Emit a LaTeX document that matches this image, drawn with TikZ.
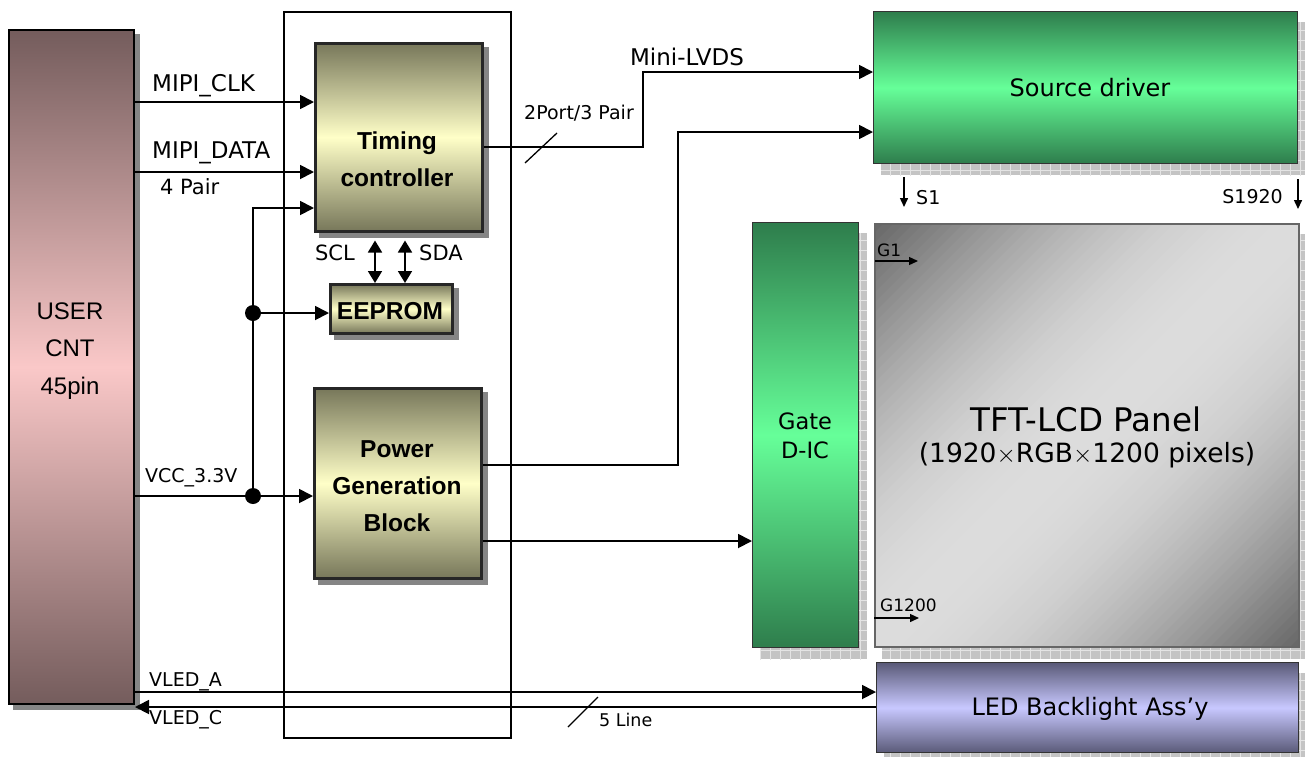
\documentclass[tikz,border=0pt]{standalone}
\usepackage{fontspec}
\setmainfont{DejaVu Sans}
\newfontfamily\arialf{Liberation Sans}
\usetikzlibrary{arrows.meta,calc,backgrounds}
\definecolor{cntdark}{HTML}{745C5C}
\definecolor{cntlight}{HTML}{FAC8C8}
\definecolor{oldark}{HTML}{77775A}
\definecolor{ollight}{HTML}{FFFFC8}
\definecolor{grdark}{HTML}{2E7D4C}
\definecolor{grlight}{HTML}{66FF99}
\definecolor{ledark}{HTML}{5A5A78}
\definecolor{lelight}{HTML}{C8C8FF}
\definecolor{pndark}{HTML}{666666}
\definecolor{pnlight}{HTML}{DCDCDC}
\definecolor{shgray}{HTML}{858585}
\definecolor{hatchbg}{HTML}{C4C4C4}
\definecolor{hatchln}{HTML}{E4E4E4}
\newcommand{\hatchshadow}[1]{%
  \fill[hatchbg] ($(#1.north west)+(8,11)$) rectangle ($(#1.south east)+(8,11)$);
  \begin{scope}
    \clip ($(#1.north west)+(8,11)$) rectangle ($(#1.south east)+(8,11)$);
    \draw[hatchln, line width=0.8pt, step=10pt] ($(#1.south west)+(0,30)$) grid ($(#1.north east)+(30,0)$);
  \end{scope}}
\newcommand{\solidshadow}[1]{%
  \fill[shgray] ($(#1.north west)+(5,5)$) rectangle ($(#1.south east)+(5,5)$);}
\begin{document}
\begin{tikzpicture}[x=1pt,y=-1pt,
  blk/.style={rectangle, inner sep=0pt, anchor=north west},
  cntbox/.style={blk, draw=black, line width=2pt, top color=cntdark, bottom color=cntdark, middle color=cntlight},
  olbox/.style={blk, draw=black!85, line width=2.5pt, top color=oldark, bottom color=oldark, middle color=ollight},
  grbox/.style={blk, draw=black!80, line width=1.2pt, top color=grdark, bottom color=grdark, middle color=grlight},
  lebox/.style={blk, draw=black!80, line width=1.2pt, top color=ledark, bottom color=ledark, middle color=lelight},
  pnbox/.style={blk, draw=black!60, line width=1.5pt},
  wire/.style={line width=1.8pt},
  arr/.style={wire, -{Triangle[length=14pt,width=14pt]}},
  darr/.style={wire, {Triangle[length=12pt,width=14pt]}-{Triangle[length=12pt,width=14pt]}},
  sarr/.style={line width=1.5pt, -{Triangle[length=9pt,width=8pt]}},
  lbl/.style={inner sep=0pt, font=\fontsize{19}{22}\selectfont},
  lblb/.style={inner sep=0pt, font=\fontsize{23}{27}\selectfont},
  btxt/.style={inner sep=0pt, align=center, font=\arialf\bfseries\fontsize{24.5}{37}\selectfont},
  dot/.style={circle, fill=black, inner sep=0pt, minimum size=16pt}
]
\useasboundingbox (0,0) rectangle (1305,756);

% outer frame
\node[blk, draw=black, line width=2pt, minimum width=227pt, minimum height=726pt] (frame) at (283,11) {};

% main blocks
\node[cntbox, minimum width=125pt, minimum height=674pt] (cnt) at (8,29) {};
\node[inner sep=0pt, align=center, font=\arialf\fontsize{24}{37.5}\selectfont] (cnttext) at (70,351) {USER\\CNT\\45pin};

\node[olbox, minimum width=167pt, minimum height=188pt] (tc) at (314,42) {};
\node[btxt] (tctext) at (397,159) {Timing\\controller};

\node[olbox, minimum width=122pt, minimum height=49pt] (ee) at (329,283) {};
\node[btxt] (eetext) at (390,311) {EEPROM};

\node[olbox, minimum width=167pt, minimum height=190pt] (pw) at (313,387) {};
\node[btxt] (pwtext) at (397,486) {Power\\Generation\\Block};

\node[grbox, minimum width=424pt, minimum height=152pt] (sd) at (873,11) {};
\node[inner sep=0pt, font=\fontsize{24}{28}\selectfont] (sdtext) at (1090,88) {Source driver};

\node[grbox, minimum width=106pt, minimum height=425pt] (gd) at (752,222) {};
\node[inner sep=0pt, align=center, font=\fontsize{22.5}{29}\selectfont] (gdtext) at (805,436) {Gate\\D-IC};

\node[pnbox, minimum width=424pt, minimum height=423pt] (pn) at (874,223) {};
\node[inner sep=0pt, font=\fontsize{32.5}{38}\selectfont] (pntext) at (1086,419) {TFT-LCD Panel};
\node[inner sep=0pt, font=\fontsize{26.5}{30}\selectfont] (pnsub) at (1087,455) {(1920$\times$RGB$\times$1200 pixels)};

\node[lebox, minimum width=422pt, minimum height=90pt] (led) at (876,662) {};
\node[inner sep=0pt, font=\fontsize{24}{28}\selectfont] (ledtext) at (1090,709) {LED Backlight Ass’y};

% shadows and panel gradient
\begin{scope}[on background layer]
  \solidshadow{cnt}
  \solidshadow{tc}
  \solidshadow{ee}
  \solidshadow{pw}
  \hatchshadow{sd}
  \hatchshadow{gd}
  \hatchshadow{pn}
  \hatchshadow{led}
  \begin{scope}
    \clip (pn.north west) rectangle (pn.south east);
    \foreach \i in {0,...,84} {
      \pgfmathsetmacro{\sa}{1097+\i*10}
      \pgfmathsetmacro{\sb}{\sa+11}
      \pgfmathsetmacro{\pp}{100*sin(180*(\i+0.5)/85)}
      \fill[pnlight!\pp!pndark] (874,\sa-874) -- (874,\sb-874) -- (1298,\sb-1298) -- (1298,\sa-1298) -- cycle;
    }
  \end{scope}
\end{scope}

% level coordinates
\coordinate (yclk) at (0,102);
\coordinate (ydat) at (0,172);
\coordinate (yctl) at (0,208);
\coordinate (yee) at (0,313);
\coordinate (yvcc) at (0,496);
\coordinate (yla) at (0,692);
\coordinate (ylc) at (0,707);
\coordinate (ylvds) at (0,147);
\coordinate (ysd1) at (0,72);
\coordinate (ysd2) at (0,132);
\coordinate (ypw1) at (0,465);
\coordinate (ypw2) at (0,541);
\coordinate (xbus) at (253,0);
\coordinate (xlvds) at (643,0);
\coordinate (xpw) at (678,0);

% left inputs
\draw[arr] (cnt.east |- yclk) -- (tc.west |- yclk);
\node[lblb, anchor=west] (lclk) at (152,86) {MIPI\_CLK};
\draw[arr] (cnt.east |- ydat) -- (tc.west |- ydat);
\node[lblb, anchor=west] (ldat) at (152,153) {MIPI\_DATA};
\node[inner sep=0pt, anchor=west, font=\fontsize{21}{25}\selectfont] (lpair) at (160,187) {4 Pair};

\node[dot] (d1) at (xbus |- yee) {};
\node[dot] (d2) at (xbus |- yvcc) {};
\draw[arr] (d2.center) -- (xbus |- yctl) -- (tc.west |- yctl);
\draw[arr] (d1.center) -- (ee.west |- yee);
\draw[arr] (cnt.east |- yvcc) -- (pw.west |- yvcc);
\node[lbl, anchor=west] (lvcc) at (145,478) {VCC\_3.3V};

% SCL / SDA
\coordinate (xscl) at (375,0);
\coordinate (xsda) at (405,0);
\draw[darr, shorten <=8pt] (tc.south -| xscl) -- (ee.north -| xscl);
\draw[darr, shorten <=8pt] (tc.south -| xsda) -- (ee.north -| xsda);
\node[inner sep=0pt, anchor=east, font=\fontsize{21}{25}\selectfont] (lscl) at (355,253) {SCL};
\node[inner sep=0pt, anchor=west, font=\fontsize{21}{25}\selectfont] (lsda) at (419,253) {SDA};

% LED lines
\draw[arr] (cnt.east |- yla) -- (led.west |- yla);
\draw[arr] (led.west |- ylc) -- (cnt.east |- ylc);
\node[lbl, anchor=west] (lvla) at (149,682) {VLED\_A};
\node[lbl, anchor=west] (lvlc) at (149,720) {VLED\_C};
\coordinate (s5a) at (568,727);
\coordinate (s5b) at (598,697);
\draw[line width=1.3pt] (s5a) -- (s5b);
\node[inner sep=0pt, anchor=west, font=\fontsize{17.5}{21}\selectfont] (l5) at (599,720) {5 Line};

% mini-LVDS
\draw[arr] (tc.east |- ylvds) -- (xlvds |- ylvds) -- (xlvds |- ysd1) -- (sd.west |- ysd1);
\node[lblb] (llvds) at (687,57) {Mini-LVDS};
\node[lbl] (lport) at (579,113) {2Port/3 Pair};
\coordinate (s2a) at (525,163);
\coordinate (s2b) at (557,133);
\draw[line width=1.3pt] (s2a) -- (s2b);

% power outputs
\draw[arr] (pw.east |- ypw1) -- (xpw |- ypw1) -- (xpw |- ysd2) -- (sd.west |- ysd2);
\draw[arr] (pw.east |- ypw2) -- (gd.west |- ypw2);

% S1 / S1920
\coordinate (s1a) at (904,177);
\coordinate (s1b) at (904,207);
\draw[sarr] (s1a) -- (s1b);
\node[lbl, anchor=west] (ls1) at (916,198) {S1};
\coordinate (s2ka) at (1298,179);
\coordinate (s2kb) at (1298,209);
\draw[sarr] (s2ka) -- (s2kb);
\node[lbl, anchor=east] (ls2k) at (1283,197) {S1920};

% G1 / G1200
\coordinate (g1a) at (875,261);
\coordinate (g1b) at (918,261);
\draw[sarr, line width=1.3pt] (g1a) -- (g1b);
\node[inner sep=0pt, anchor=west, font=\fontsize{17}{20}\selectfont] (lg1) at (877,250) {G1};
\coordinate (g2a) at (874,618);
\coordinate (g2b) at (919,618);
\draw[sarr, line width=1.3pt] (g2a) -- (g2b);
\node[inner sep=0pt, anchor=west, font=\fontsize{17}{20}\selectfont] (lg2) at (880,605) {G1200};
\end{tikzpicture}
\end{document}
